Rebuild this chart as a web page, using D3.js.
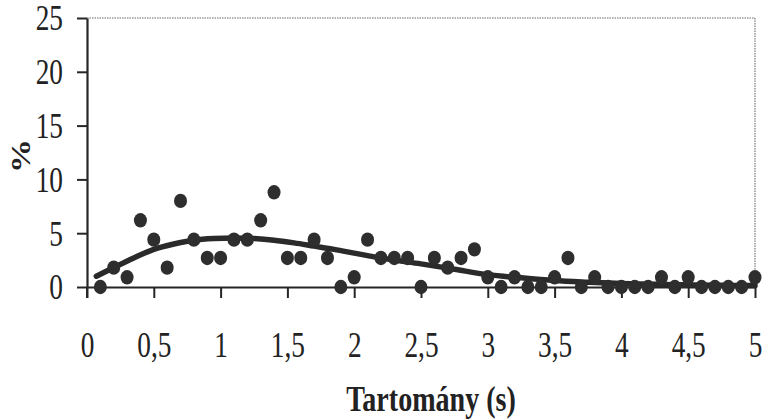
<!DOCTYPE html>
<html>
<head>
<meta charset="utf-8">
<script src="https://cdn.jsdelivr.net/npm/d3@7"></script>
<style>
  html, body { margin: 0; padding: 0; background: #ffffff; }
  svg { display: block; }
  text { font-family: "Liberation Serif", "Times New Roman", serif; fill: #222; }
</style>
</head>
<body>
<svg id="chart" width="766" height="419"></svg>
<script>
// Measured points (x in s, y in %)
const pointX = [0.1,0.2,0.3,0.4,0.5,0.6,0.7,0.8,0.9,1.0,1.1,1.2,1.3,1.4,1.5,1.6,1.7,1.8,1.9,2.0,
                2.1,2.2,2.3,2.4,2.5,2.6,2.7,2.8,2.9,3.0,3.1,3.2,3.3,3.4,3.5,3.6,3.7,3.8,3.9,4.0,
                4.1,4.2,4.3,4.4,4.5,4.6,4.7,4.8,4.9,5.0];
const pointY = [0,1.8,0.9,6.2,4.4,1.8,8.0,4.4,2.7,2.7,4.4,4.4,6.2,8.8,2.7,2.7,4.4,2.7,0,0.9,
                4.4,2.7,2.7,2.7,0,2.7,1.8,2.7,3.5,0.9,0,0.9,0,0,0.9,2.7,0,0.9,0,0,
                0,0,0.9,0,0.9,0,0,0,0,0.9];
// Fitted curve
const curveX = [0.07,0.2,0.35,0.5,0.65,0.8,0.95,1.1,1.25,1.4,1.55,1.7,1.85,2.0,2.15,2.3,2.5,2.75,3.0,3.25,3.5,3.75,4.0,4.25,4.5,4.75,5.0];
const curveY = [1.0,1.8,2.7,3.5,4.0,4.35,4.5,4.55,4.5,4.35,4.1,3.8,3.5,3.15,2.8,2.5,2.15,1.65,1.15,0.85,0.6,0.45,0.33,0.26,0.2,0.16,0.13];
const xTicks = [0,0.5,1,1.5,2,2.5,3,3.5,4,4.5,5];
const xTickLabels = ["0","0,5","1","1,5","2","2,5","3","3,5","4","4,5","5"];
const yTicks = [0,5,10,15,20,25];
const xTitle = "Tartomány (s)";
const yTitle = "%";

const svg = d3.select("#chart");
const mLeft = 87, mRight = 755, mTop = 18, mBottom = 287;
const x = d3.scaleLinear().domain([0,5]).range([mLeft,mRight]);
const y = d3.scaleLinear().domain([0,25]).range([mBottom,mTop]);
const SX = 0.78;
const ink = "#262626";

// frame (top and right, light dotted)
svg.append("line").attr("x1",mLeft).attr("x2",mRight).attr("y1",mTop).attr("y2",mTop)
  .attr("stroke","#9a9a9a").attr("stroke-width",1.6).attr("stroke-dasharray","1.5,1");
svg.append("line").attr("x1",mRight).attr("x2",mRight).attr("y1",mTop).attr("y2",mBottom)
  .attr("stroke","#9a9a9a").attr("stroke-width",1.6).attr("stroke-dasharray","1.5,1");

// x axis
const xAxis = d3.axisBottom(x).tickValues(xTicks).tickFormat((d,i)=>xTickLabels[i]).tickSize(11).tickSizeOuter(0);
const gx = svg.append("g").attr("transform",`translate(0,${mBottom})`).call(xAxis);
gx.select(".domain").attr("stroke",ink).attr("stroke-width",2.2);
gx.selectAll(".tick line").attr("stroke",ink).attr("stroke-width",2);
gx.selectAll(".tick text").attr("y",70).attr("dy",0).attr("x",0)
  .attr("transform",`scale(${SX},1)`)
  .style("font-size","35px").attr("fill","#222");

// y axis
const yAxis = d3.axisLeft(y).tickValues(yTicks).tickSize(10).tickSizeOuter(0);
const gy = svg.append("g").attr("transform",`translate(${mLeft},0)`).call(yAxis);
gy.select(".domain").attr("stroke",ink).attr("stroke-width",2.2);
gy.selectAll(".tick line").attr("stroke",ink).attr("stroke-width",2);
gy.selectAll(".tick text").attr("x",-24/SX).attr("dy","0.34em")
  .attr("transform",`scale(${SX},1)`)
  .style("font-size","35px").attr("fill","#222");
svg.append("line").attr("x1",mLeft).attr("x2",mLeft).attr("y1",mBottom).attr("y2",mBottom+11)
  .attr("stroke",ink).attr("stroke-width",2);

// curve
const curveData = curveX.map((v,i)=>[v,curveY[i]]);
svg.append("path").datum(curveData)
  .attr("d", d3.line().x(d=>x(d[0])).y(d=>y(d[1])).curve(d3.curveCatmullRom))
  .attr("fill","none").attr("stroke","#2a2a2a").attr("stroke-width",5.5).attr("stroke-linecap","round");

// points
svg.append("g").selectAll("ellipse").data(pointX.map((v,i)=>[v,pointY[i]])).join("ellipse")
  .attr("cx",d=>x(d[0])).attr("cy",d=>y(d[1])).attr("rx",6.5).attr("ry",7.2)
  .attr("fill","#2e2e2e");

// titles
svg.append("text").attr("transform",`translate(431,411) scale(${SX},1)`)
  .attr("text-anchor","middle").style("font-size","36px").style("font-weight","bold")
  .text(xTitle);
svg.append("text").attr("transform",`translate(30,156) rotate(-90) scale(1,${SX})`)
  .attr("text-anchor","middle").style("font-size","34px").style("font-weight","bold")
  .text(yTitle);
</script>
</body>
</html>
